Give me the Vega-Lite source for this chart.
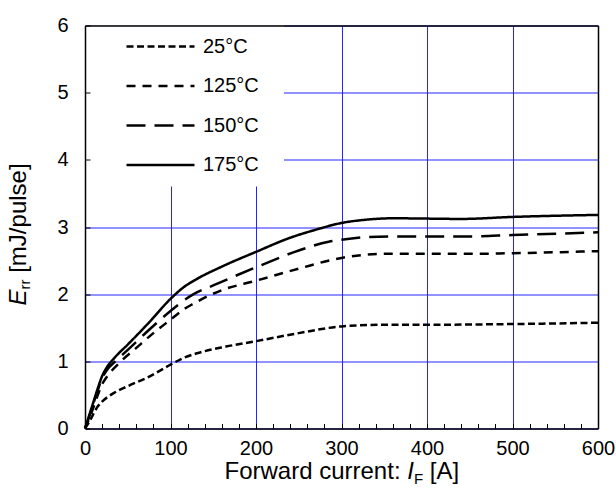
{
  "$schema": "https://vega.github.io/schema/vega-lite/v6.json",
  "width": 513,
  "height": 403,
  "autosize": {"type": "none"},
  "padding": {"left": 85, "top": 25.5, "right": 18, "bottom": 61.5},
  "background": "white",
  "config": {
    "font": "Liberation Sans",
    "view": {"stroke": null},
    "axis": {"titleFontWeight": "normal", "titleColor": "black", "labelColor": "black", "titleAnchor": "start", "titleAlign": "left", "titleBaseline": "alphabetic"}
  },
  "data": {
    "values": [
      {"temp": "25°C", "current": 0, "energy": 0},
      {"temp": "25°C", "current": 5, "energy": 0.1},
      {"temp": "25°C", "current": 10, "energy": 0.22},
      {"temp": "25°C", "current": 15, "energy": 0.33},
      {"temp": "25°C", "current": 20, "energy": 0.4},
      {"temp": "25°C", "current": 34, "energy": 0.53},
      {"temp": "25°C", "current": 50, "energy": 0.63},
      {"temp": "25°C", "current": 73, "energy": 0.76},
      {"temp": "25°C", "current": 100, "energy": 0.95},
      {"temp": "25°C", "current": 115, "energy": 1.05},
      {"temp": "25°C", "current": 131, "energy": 1.12},
      {"temp": "25°C", "current": 165, "energy": 1.22},
      {"temp": "25°C", "current": 200, "energy": 1.3},
      {"temp": "25°C", "current": 250, "energy": 1.42},
      {"temp": "25°C", "current": 300, "energy": 1.52},
      {"temp": "25°C", "current": 350, "energy": 1.545},
      {"temp": "25°C", "current": 400, "energy": 1.545},
      {"temp": "25°C", "current": 500, "energy": 1.555},
      {"temp": "25°C", "current": 600, "energy": 1.575},
      {"temp": "125°C", "current": 0, "energy": 0},
      {"temp": "125°C", "current": 5, "energy": 0.15},
      {"temp": "125°C", "current": 10, "energy": 0.32},
      {"temp": "125°C", "current": 15, "energy": 0.5},
      {"temp": "125°C", "current": 20, "energy": 0.66},
      {"temp": "125°C", "current": 25, "energy": 0.76},
      {"temp": "125°C", "current": 42, "energy": 1.0},
      {"temp": "125°C", "current": 60, "energy": 1.2},
      {"temp": "125°C", "current": 80, "energy": 1.42},
      {"temp": "125°C", "current": 100, "energy": 1.62},
      {"temp": "125°C", "current": 115, "energy": 1.77},
      {"temp": "125°C", "current": 127, "energy": 1.86},
      {"temp": "125°C", "current": 158, "energy": 2.05},
      {"temp": "125°C", "current": 200, "energy": 2.2},
      {"temp": "125°C", "current": 250, "energy": 2.38},
      {"temp": "125°C", "current": 300, "energy": 2.54},
      {"temp": "125°C", "current": 350, "energy": 2.6},
      {"temp": "125°C", "current": 400, "energy": 2.6},
      {"temp": "125°C", "current": 450, "energy": 2.6},
      {"temp": "125°C", "current": 500, "energy": 2.61},
      {"temp": "125°C", "current": 600, "energy": 2.64},
      {"temp": "150°C", "current": 0, "energy": 0},
      {"temp": "150°C", "current": 5, "energy": 0.18},
      {"temp": "150°C", "current": 10, "energy": 0.38},
      {"temp": "150°C", "current": 15, "energy": 0.57},
      {"temp": "150°C", "current": 20, "energy": 0.75},
      {"temp": "150°C", "current": 25, "energy": 0.86},
      {"temp": "150°C", "current": 38, "energy": 1.03},
      {"temp": "150°C", "current": 50, "energy": 1.17},
      {"temp": "150°C", "current": 75, "energy": 1.47},
      {"temp": "150°C", "current": 100, "energy": 1.75},
      {"temp": "150°C", "current": 115, "energy": 1.9},
      {"temp": "150°C", "current": 127, "energy": 2.0},
      {"temp": "150°C", "current": 150, "energy": 2.13},
      {"temp": "150°C", "current": 200, "energy": 2.4},
      {"temp": "150°C", "current": 250, "energy": 2.65},
      {"temp": "150°C", "current": 285, "energy": 2.78},
      {"temp": "150°C", "current": 300, "energy": 2.81},
      {"temp": "150°C", "current": 330, "energy": 2.85},
      {"temp": "150°C", "current": 360, "energy": 2.86},
      {"temp": "150°C", "current": 400, "energy": 2.86},
      {"temp": "150°C", "current": 450, "energy": 2.86},
      {"temp": "150°C", "current": 500, "energy": 2.88},
      {"temp": "150°C", "current": 600, "energy": 2.92},
      {"temp": "175°C", "current": 0, "energy": 0},
      {"temp": "175°C", "current": 5, "energy": 0.2},
      {"temp": "175°C", "current": 10, "energy": 0.4},
      {"temp": "175°C", "current": 15, "energy": 0.6},
      {"temp": "175°C", "current": 20, "energy": 0.78},
      {"temp": "175°C", "current": 25, "energy": 0.9},
      {"temp": "175°C", "current": 35, "energy": 1.06},
      {"temp": "175°C", "current": 50, "energy": 1.25},
      {"temp": "175°C", "current": 75, "energy": 1.58},
      {"temp": "175°C", "current": 100, "energy": 1.93},
      {"temp": "175°C", "current": 115, "energy": 2.1},
      {"temp": "175°C", "current": 130, "energy": 2.22},
      {"temp": "175°C", "current": 160, "energy": 2.41},
      {"temp": "175°C", "current": 200, "energy": 2.63},
      {"temp": "175°C", "current": 240, "energy": 2.84},
      {"temp": "175°C", "current": 270, "energy": 2.96},
      {"temp": "175°C", "current": 300, "energy": 3.06},
      {"temp": "175°C", "current": 330, "energy": 3.11},
      {"temp": "175°C", "current": 360, "energy": 3.13},
      {"temp": "175°C", "current": 400, "energy": 3.125},
      {"temp": "175°C", "current": 440, "energy": 3.12},
      {"temp": "175°C", "current": 500, "energy": 3.15},
      {"temp": "175°C", "current": 600, "energy": 3.18}
    ]
  },
  "layer": [
    {
      "mark": {"type": "line", "interpolate": "monotone", "strokeWidth": 2.5, "color": "black"},
      "encoding": {
        "x": {
          "field": "current", "type": "quantitative",
          "scale": {"domain": [0, 600], "nice": false},
          "axis": {
            "orient": "bottom", "values": [0, 100, 200, 300, 400, 500, 600],
            "grid": true, "gridColor": "#2424ff", "gridWidth": 1, "gridOpacity": 1,
            "domain": false, "ticks": false, "labelFontSize": 20, "labelPadding": 10,
            "labelFlush": false, "labelOverlap": false,
            "title": "Forward current:", "titleFontSize": 24, "titleX": 139, "titleY": 50
          }
        },
        "y": {
          "field": "energy", "type": "quantitative",
          "scale": {"domain": [0, 6], "nice": false},
          "axis": {
            "orient": "left", "values": [0, 1, 2, 3, 4, 5, 6],
            "grid": true, "gridColor": "#2424ff", "gridWidth": 1, "gridOpacity": 1,
            "domain": false, "ticks": false, "labelFontSize": 20, "labelPadding": 17,
            "labelFlush": false, "labelOverlap": false,
            "title": "[mJ/pulse]", "titleFontSize": 24, "titleAngle": -90, "titleX": -59.5, "titleY": 246.8
          }
        },
        "strokeDash": {
          "field": "temp", "type": "nominal",
          "scale": {"domain": ["25°C", "125°C", "150°C", "175°C"], "range": [[7, 3.5], [9, 7], [19, 9], [1, 0]]},
          "legend": {
            "orient": "none", "legendX": 1, "legendY": 0, "title": null,
            "fillColor": "white", "padding": 4, "clipHeight": 34, "rowPadding": 5.5,
            "symbolType": "stroke", "symbolSize": 4624, "symbolStrokeWidth": 2.5, "symbolStrokeColor": "black",
            "labelFontSize": 20, "labelColor": "black", "labelOffset": 7, "symbolOffset": 35,
            "labelExpr": "datum.label + '\u00a0\u00a0\u00a0\u2009\u200b'"
          }
        }
      }
    },
    {
      "mark": {"type": "point", "opacity": 0},
      "encoding": {
        "x": {
          "field": "current", "type": "quantitative",
          "axis": {
            "orient": "bottom", "values": [0, 20, 40, 60, 80, 100, 120, 140, 160, 180, 200, 220, 240, 260, 280, 300, 320, 340, 360, 380, 400, 420, 440, 460, 480, 500, 520, 540, 560, 580, 600],
            "grid": false, "labels": false, "ticks": true, "tickSize": -5, "tickColor": "black", "tickWidth": 1,
            "domain": true, "domainColor": "black", "domainWidth": 1.5, "zindex": 1,
            "title": "I", "titleFontStyle": "italic", "titleFontSize": 24, "titleX": 321.7, "titleY": 50
          }
        },
        "y": {
          "field": "energy", "type": "quantitative",
          "axis": {
            "orient": "left", "values": [0, 1, 2, 3, 4, 5, 6],
            "grid": false, "labels": false, "ticks": true, "tickSize": -5, "tickColor": "black", "tickWidth": 1,
            "domain": true, "domainColor": "black", "domainWidth": 1.5, "zindex": 1,
            "title": "E", "titleFontStyle": "italic", "titleFontSize": 24, "titleAngle": -90, "titleX": -59.5, "titleY": 279.5
          }
        }
      }
    },
    {
      "mark": {"type": "point", "opacity": 0},
      "encoding": {
        "x": {
          "field": "current", "type": "quantitative",
          "axis": {
            "orient": "bottom", "grid": false, "labels": false, "ticks": false, "domain": false,
            "title": "F", "titleFontSize": 15, "titleX": 328.4, "titleY": 54.5
          }
        },
        "y": {
          "field": "energy", "type": "quantitative",
          "axis": {
            "orient": "left", "grid": false, "labels": false, "ticks": false, "domain": false,
            "title": "rr", "titleFontSize": 15, "titleAngle": -90, "titleX": -55.5, "titleY": 263.5
          }
        }
      }
    },
    {
      "mark": {"type": "point", "opacity": 0},
      "encoding": {
        "x": {
          "field": "current", "type": "quantitative",
          "axis": {
            "orient": "top", "grid": false, "labels": false, "ticks": false,
            "domain": true, "domainColor": "black", "domainWidth": 1.5, "zindex": 1,
            "title": "[A]", "titleFontSize": 24, "titleX": 344.3, "titleY": 453
          }
        },
        "y": {
          "field": "energy", "type": "quantitative",
          "axis": {
            "orient": "right", "grid": false, "labels": false, "ticks": false,
            "domain": true, "domainColor": "black", "domainWidth": 1.5, "zindex": 1, "title": null
          }
        }
      }
    }
  ],
  "resolve": {"axis": {"x": "independent", "y": "independent"}}
}
